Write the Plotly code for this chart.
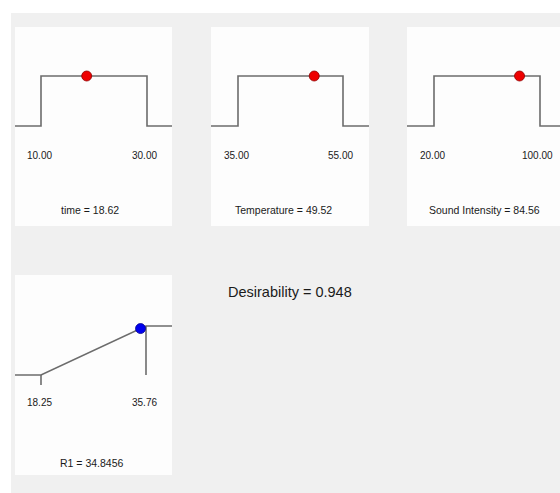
import plotly.graph_objects as go

W, H = 560, 493

# ---- data ----
factor_names = ["time", "Temperature", "Sound Intensity"]
factor_low = [10.00, 35.00, 20.00]
factor_high = [30.00, 55.00, 100.00]
factor_value = [18.62, 49.52, 84.56]

resp_name = "R1"
resp_low = 18.25
resp_high = 35.76
resp_value = 34.8456
desirability = 0.948

# ---- layout helpers (pixel geometry) ----
def px(x):
    return x / W

def py(y):
    return 1 - y / H

FONT = "Liberation Sans Narrow, Arial Narrow, Liberation Sans, Arial, sans-serif"
LINE = "#6c6c6c"
TXT = "#1a1a1a"

panels = [
    dict(L=15, R=172, T=27, B=226, a=41, b=147, ylo=126, yhi=76),
    dict(L=211, R=369, T=27, B=226, a=238, b=343, ylo=126, yhi=76),
    dict(L=407, R=560, T=27, B=226, a=434, b=540, ylo=126, yhi=76),
]
rpanel = dict(L=15, R=172, T=275, B=475, a=41, b=146, ylo=375, yhi=326)

fig = go.Figure()
shapes = [
    dict(type="rect", xref="paper", yref="paper", x0=px(11), x1=1.05, y0=-0.05, y1=py(13),
         fillcolor="#f0f0f0", line=dict(width=0), layer="below"),
]
annotations = []


def axis_ranges(p, lo, hi):
    upx = (hi - lo) / (p["b"] - p["a"])
    xr = [lo - (p["a"] - p["L"]) * upx, hi + (p["R"] - p["b"]) * upx]
    upy = 1.0 / (p["ylo"] - p["yhi"])
    yr = [-(p["B"] - p["ylo"]) * upy, 1 + (p["yhi"] - p["T"]) * upy]
    return xr, yr, upy, upx


def add_axes(i, p, xr, yr):
    sfx = "" if i == 1 else str(i)
    fig.layout["xaxis" + sfx] = dict(domain=[px(p["L"]), px(p["R"])], range=xr, visible=False,
                                    anchor="y" + sfx, fixedrange=True)
    fig.layout["yaxis" + sfx] = dict(domain=[py(p["B"]), py(p["T"])], range=yr, visible=False,
                                    anchor="x" + sfx, fixedrange=True)
    shapes.append(dict(type="rect", xref="paper", yref="paper", x0=px(p["L"]), x1=px(p["R"]),
                       y0=py(p["B"]), y1=py(p["T"]), fillcolor="#fdfdfd",
                       line=dict(width=0), layer="below"))
    return "x" + sfx, "y" + sfx


# factor panels
title_cx = [90, 283, 484]
for k, p in enumerate(panels):
    lo, hi, val, name = factor_low[k], factor_high[k], factor_value[k], factor_names[k]
    xr, yr, upy, upx = axis_ranges(p, lo, hi)
    xa, ya = add_axes(k + 1, p, xr, yr)
    fig.add_trace(go.Scatter(x=[xr[0], lo, lo, hi, hi, xr[1]], y=[0, 0, 1, 1, 0, 0],
                             mode="lines", line=dict(color=LINE, width=1.6),
                             xaxis=xa, yaxis=ya, hoverinfo="skip", showlegend=False))
    fig.add_trace(go.Scatter(x=[val], y=[1], mode="markers",
                             marker=dict(color="#ee0000", size=10, line=dict(color="#900000", width=0.8)),
                             xaxis=xa, yaxis=ya, showlegend=False))
    for v, dx in ((lo, -2), (hi, -3)):
        annotations.append(dict(x=v + dx * upx, y=-(155 - p["ylo"]) * upy, xref=xa, yref=ya,
                                text=f"{v:.2f}", showarrow=False,
                                font=dict(family=FONT, size=10, color=TXT)))
    annotations.append(dict(x=xr[0] + (title_cx[k] - p["L"]) * upx, y=-(210 - p["ylo"]) * upy,
                            xref=xa, yref=ya, text=f"{name} = {val:.2f}", showarrow=False,
                            font=dict(family=FONT, size=10.5, color=TXT)))

# response panel
p = rpanel
xr, yr, upy, upx = axis_ranges(p, resp_low, resp_high)
xa, ya = add_axes(4, p, xr, yr)
fig.add_trace(go.Scatter(
    x=[xr[0], resp_low, resp_high, xr[1], None, resp_low, resp_low, None, resp_high, resp_high],
    y=[0, 0, 1, 1, None, 0, -10 * upy, None, 1, 0],
    mode="lines", line=dict(color=LINE, width=1.6),
    xaxis=xa, yaxis=ya, hoverinfo="skip", showlegend=False))
d_val = (resp_value - resp_low) / (resp_high - resp_low)
fig.add_trace(go.Scatter(x=[resp_value], y=[d_val], mode="markers",
                         marker=dict(color="#0000ee", size=10, line=dict(color="#000090", width=0.8)),
                         xaxis=xa, yaxis=ya, showlegend=False))
for v in (resp_low, resp_high):
    annotations.append(dict(x=v - 2 * upx, y=-(402 - p["ylo"]) * upy, xref=xa, yref=ya,
                            text=f"{v:.2f}", showarrow=False,
                            font=dict(family=FONT, size=10, color=TXT)))
annotations.append(dict(x=xr[0] + (92 - p["L"]) * upx, y=-(463 - p["ylo"]) * upy, xref=xa, yref=ya,
                        text=f"{resp_name} = {resp_value:.4f}", showarrow=False,
                        font=dict(family=FONT, size=10.5, color=TXT)))

annotations.append(dict(x=px(290), y=py(292), xref="paper", yref="paper",
                        text=f"Desirability = {desirability:.3f}", showarrow=False,
                        font=dict(family=FONT, size=14.5, color=TXT)))

fig.update_layout(width=W, height=H, margin=dict(l=0, r=0, t=0, b=0),
                  paper_bgcolor="white", plot_bgcolor="rgba(0,0,0,0)",
                  shapes=shapes, annotations=annotations, showlegend=False)

fig.write_html("out.html", config=dict(displayModeBar=False),
               post_script="document.body.style.margin='0';document.body.style.overflow='hidden';"
                           "document.body.style.background='#f0f0f0';")
